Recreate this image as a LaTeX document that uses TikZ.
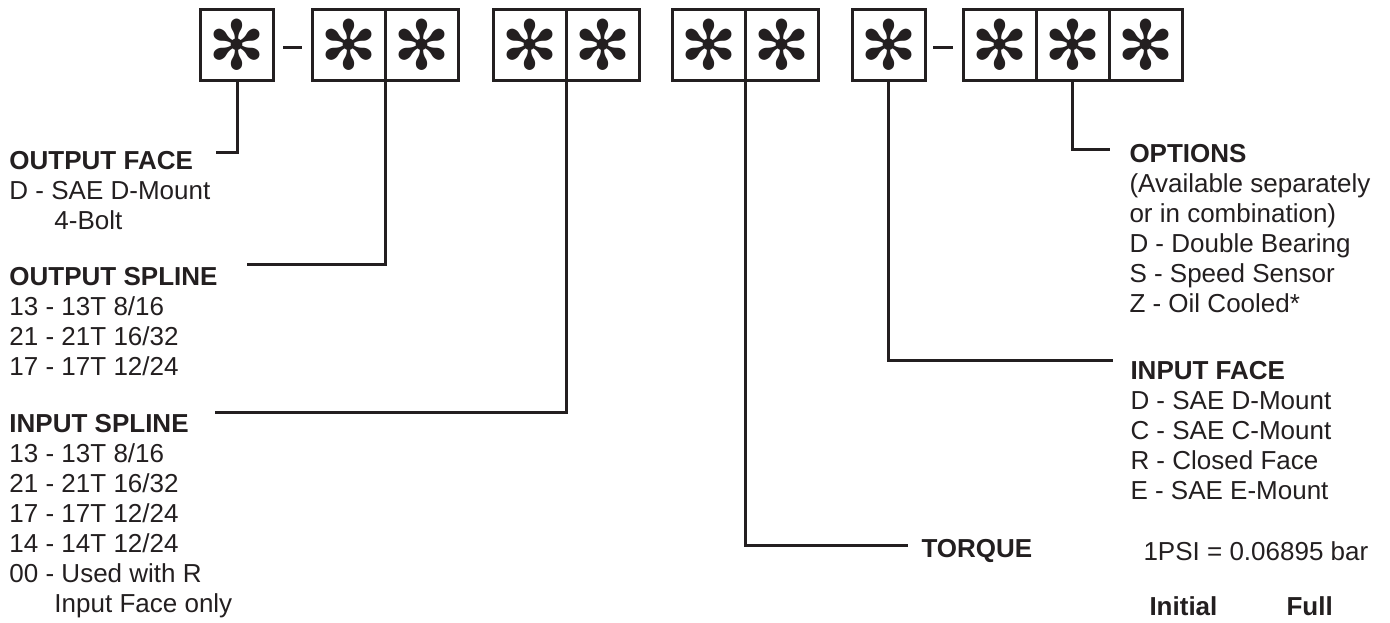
\documentclass[tikz,border=0pt]{standalone}
\usepackage{fontspec}
\setmainfont{Liberation Sans}
\newfontfamily\symfont{DejaVu Sans}
\usetikzlibrary{positioning}
\definecolor{ink}{RGB}{35,31,32}
\newcommand\tdast{✻}
\newcommand\ind{\hspace*{22.5pt}}

\begin{document}
\begin{tikzpicture}[
            x=0.5pt, y=-0.5pt,
            every path/.style={line width=1.5pt},
            cell/.style={
                rectangle,
                draw=ink,
                text=ink,
                minimum width=36.5pt,
                minimum height=35.5pt,
                inner sep=0pt,
                outer sep=0pt,
                font=\symfont\fontsize{34}{34}\selectfont
            },
            lead/.style={
                line width=1.5pt,
                draw=ink
            },
            hyph/.style={
                line width=1.5pt,
                draw=ink
            },
            legend/.style={
                anchor=north west,
                inner sep=0pt,
                align=left,
                text=ink,
                font=\fontsize{13}{15}\selectfont
            },
        ]
            \useasboundingbox (0,0) rectangle (1390,622);

            % code boxes
            \node[cell] (c1) at (237,44.5) {\tdast};

            \node[cell] (c2a) at (348.5,44.5) {\tdast};
            \node[cell, right=0pt of c2a] (c2b) {\tdast};

            \node[cell] (c3a) at (529.5,44.5) {\tdast};
            \node[cell, right=0pt of c3a] (c3b) {\tdast};

            \node[cell] (c4a) at (708.5,44.5) {\tdast};
            \node[cell, right=0pt of c4a] (c4b) {\tdast};

            \node[cell] (c5) at (888.5,44.5) {\tdast};

            \node[cell] (c6a) at (999.5,44.5) {\tdast};
            \node[cell, right=0pt of c6a] (c6b) {\tdast};
            \node[cell, right=0pt of c6b] (c6c) {\tdast};

            \draw[hyph] (283,47) -- (302,47);
            \draw[hyph] (933,47) -- (953,47);

            % legends
            \node[legend] (oface) at (8,150) {\textbf{OUTPUT FACE}\\D - SAE D-Mount\\\ind 4-Bolt};
            \node[legend] (ospline) at (8,266) {\textbf{OUTPUT SPLINE}\\13 - 13T 8/16\\21 - 21T 16/32\\17 - 17T 12/24};
            \node[legend] (ispline) at (8,413) {\textbf{INPUT SPLINE}\\13 - 13T 8/16\\21 - 21T 16/32\\17 - 17T 12/24\\14 - 14T 12/24\\00 - Used with R\\\ind Input Face only};

            \node[legend] (opts) at (1128,143) {\textbf{OPTIONS}\\(Available separately\\or in combination)\\D - Double Bearing\\S - Speed Sensor\\Z - Oil Cooled*};
            \node[legend] (iface) at (1129,360) {\textbf{INPUT FACE}\\D - SAE D-Mount\\C - SAE C-Mount\\R - Closed Face\\E - SAE E-Mount};

            \node[legend] (torque) at (920,538) {\textbf{TORQUE}};
            \node[legend] (psi) at (1142,540) {1PSI = 0.06895 bar};
            \node[legend] (init) at (1148,595) {\textbf{Initial}};
            \node[legend] (full) at (1285,595) {\textbf{Full}};

            % leader lines
            \coordinate (kOF) at (216,152);
            \coordinate (kOS) at (247,264);
            \coordinate (kIS) at (215,412);
            \coordinate (kTQ) at (908,545);
            \coordinate (kIF) at (1113,360);
            \coordinate (kOP) at (1110,149);

            \draw[lead] (c1.south) |- (kOF);
            \draw[lead] (c2a.south east) |- (kOS);
            \draw[lead] (c3a.south east) |- (kIS);
            \draw[lead] (c4a.south east) |- (kTQ);
            \draw[lead] (c5.south) |- (kIF);
            \draw[lead] (c6b.south) |- (kOP);
        \end{tikzpicture}
\end{document}
